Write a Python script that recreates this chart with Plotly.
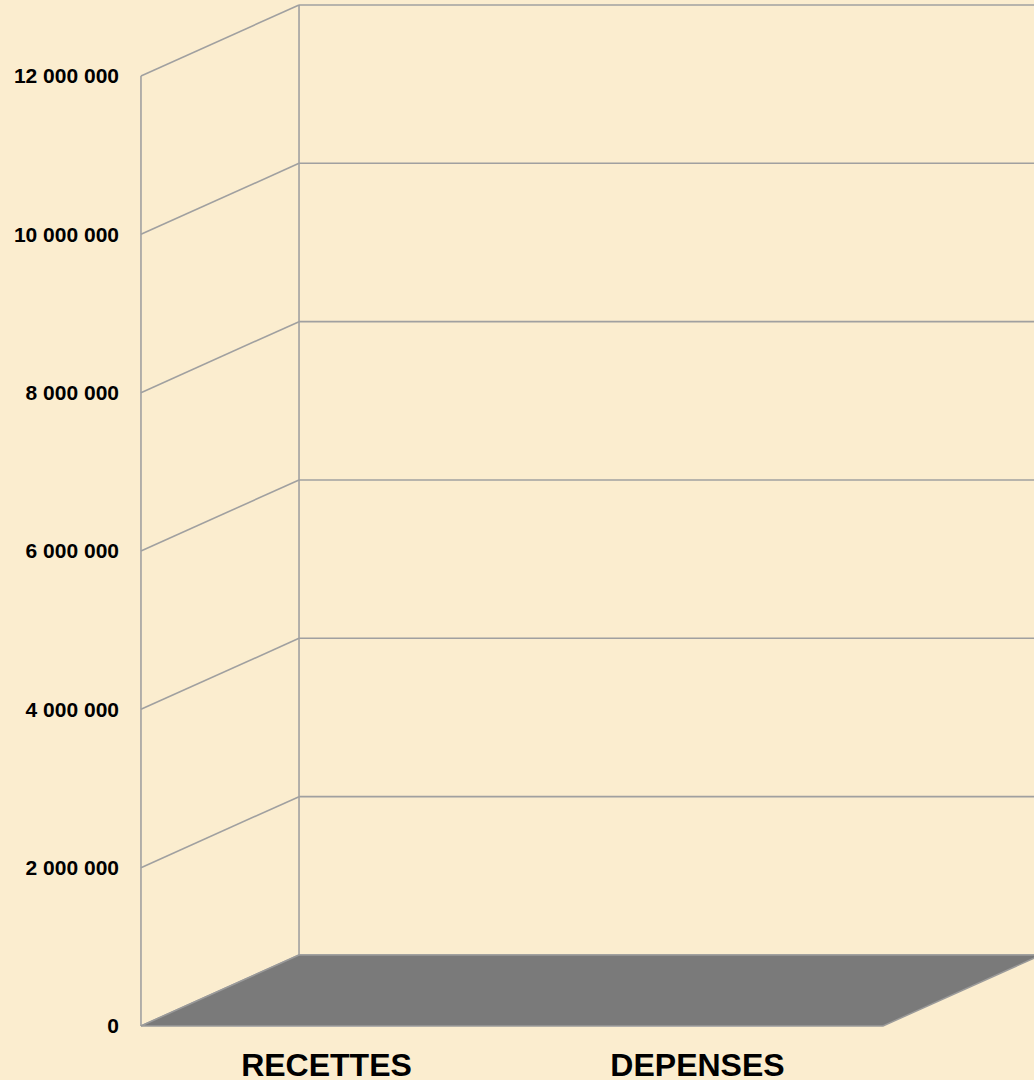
import plotly.graph_objects as go

categories = ["RECETTES", "DEPENSES"]
values = [0, 0]
y_ticks = [0, 2000000, 4000000, 6000000, 8000000, 10000000, 12000000]

# 3D look geometry (in axis units)
depth_x = 0.426
depth_y = 897000
x_left = -0.5
x_right = 1.5
x_far = 3.0

bg = "#FBEDCF"
grid_col = "#A0A0A0"

fig = go.Figure()

# back wall gridlines
bx, by = [], []
for t in y_ticks:
    bx += [x_left + depth_x, x_far, None]
    by += [t + depth_y, t + depth_y, None]
# back wall vertical edge
bx += [x_left + depth_x, x_left + depth_x, None]
by += [depth_y, y_ticks[-1] + depth_y, None]
fig.add_trace(go.Scatter(x=bx, y=by, mode="lines", line=dict(color=grid_col, width=1.6),
                         hoverinfo="skip", showlegend=False))

# left wall lines
lx, ly = [], []
for t in y_ticks:
    lx += [x_left, x_left + depth_x, None]
    ly += [t, t + depth_y, None]
lx += [x_left, x_left, None]
ly += [0, y_ticks[-1], None]
fig.add_trace(go.Scatter(x=lx, y=ly, mode="lines", line=dict(color=grid_col, width=1.6),
                         hoverinfo="skip", showlegend=False))

# floor
fig.add_trace(go.Scatter(
    x=[x_left, x_right, x_right + depth_x, x_left + depth_x, x_left],
    y=[0, 0, depth_y, depth_y, 0],
    mode="lines", fill="toself", fillcolor="#7A7A7A",
    line=dict(color="#9A9A9A", width=1.5), hoverinfo="skip", showlegend=False))

# bars (values are zero)
fig.add_trace(go.Bar(x=[0, 1], y=values, marker_color="#4F81BD", width=0.5,
                     showlegend=False))

fig.update_layout(
    width=1034, height=1080,
    margin=dict(l=138, r=0, t=0, b=51, autoexpand=False),
    paper_bgcolor=bg, plot_bgcolor=bg,
    separators=", ",
    showlegend=False,
    font=dict(family="Liberation Sans", color="#000000"),
)
fig.update_xaxes(range=[-0.508, 1.907], tickvals=[0, 1], ticktext=categories,
                 showgrid=False, zeroline=False, showline=False, ticks="",
                 tickfont=dict(size=32, weight="bold", family="Liberation Sans"),
                 ticklabelstandoff=14, automargin=False, fixedrange=True)
fig.update_yaxes(range=[-38000, 12960000], tickvals=y_ticks, tickformat=",.0f",
                 showgrid=False, zeroline=False, showline=False, ticks="",
                 tickfont=dict(size=21, weight="bold", family="Liberation Sans"),
                 ticklabelstandoff=18, automargin=False, fixedrange=True)

fig.write_html(
    "out.html",
    config={"displayModeBar": False},
    post_script="document.body.style.margin='0';document.body.style.overflow='hidden';"
                "document.body.style.background='" + bg + "';",
)
